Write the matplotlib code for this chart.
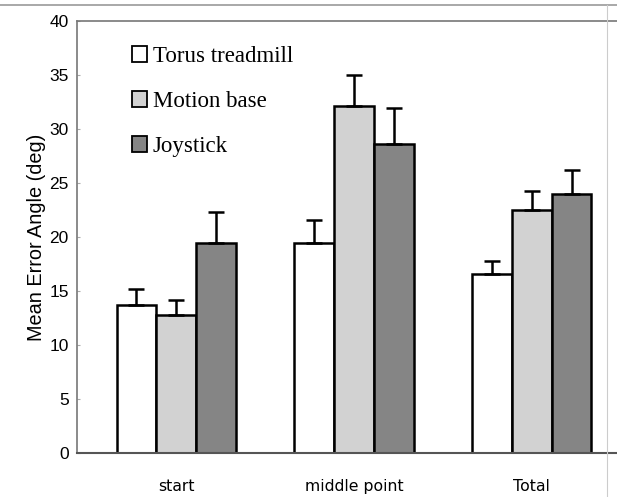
import matplotlib.pyplot as plt
from matplotlib.lines import Line2D
import numpy as np

groups = ["start", "middle point", "Total"]
series = ["Torus treadmill", "Motion base", "Joystick"]
means = [
    [13.7, 19.4, 16.6],   # Torus treadmill
    [12.8, 32.1, 22.5],   # Motion base
    [19.4, 28.6, 24.0],   # Joystick
]
errors = [
    [1.5, 2.2, 1.2],
    [1.4, 2.9, 1.8],
    [2.9, 3.3, 2.2],
]
colors = ["white", "#d2d2d2", "#858585"]

fig = plt.figure(figsize=(6.17, 4.97), dpi=100)
ax = fig.add_axes([77 / 617, 1 - 453 / 497, (631 - 77) / 617, (453 - 21) / 497])

x = np.arange(len(groups))
width = 0.225
for i in range(len(series)):
    ax.bar(x + (i - 1) * width, means[i], width, color=colors[i], edgecolor="black",
           linewidth=1.8, label=series[i], zorder=2)
    ax.errorbar(x + (i - 1) * width, means[i], yerr=[np.zeros(3), errors[i]], fmt="none",
                ecolor="black", elinewidth=1.8, capsize=6, capthick=1.8, zorder=3)

ax.set_xlim(-0.56, 2.56)
ax.set_ylim(0, 40)
ax.set_yticks(range(0, 41, 5))
ax.set_xticks(x)
ax.set_xticklabels(groups, fontsize=11.3, family="DejaVu Sans")
ax.tick_params(axis="x", length=0, pad=19)
ax.tick_params(axis="y", direction="in", length=2, labelsize=12.5, colors="#aaaaaa",
               labelcolor="black", pad=6)
for t in ax.get_yticklabels():
    t.set_family("Liberation Sans")
ax.set_ylabel("Mean Error Angle (deg)", fontsize=14.3, family="Liberation Sans", labelpad=2)

for s in ["top", "left"]:
    ax.spines[s].set_color("#777777")
    ax.spines[s].set_linewidth(1.2)
ax.spines["right"].set_visible(False)
ax.spines["bottom"].set_linewidth(1.5)
ax.spines["bottom"].set_color("#555555")

leg = ax.legend(loc="upper left", bbox_to_anchor=(0.062, 0.99), frameon=False,
                prop={"family": "Liberation Serif", "size": 16.5},
                handlelength=0.65, handleheight=0.65, labelspacing=1.05, handletextpad=0.25)
for h in leg.legend_handles:
    h.set_linewidth(1.3)

# page edges from the scan
fig.add_artist(Line2D([0, 1], [1 - 5 / 497] * 2, color="#999999", linewidth=1.2))
fig.add_artist(Line2D([607 / 617] * 2, [0, 1 - 5 / 497], color="#cccccc", linewidth=0.8))

plt.savefig("out.png", dpi=100)
